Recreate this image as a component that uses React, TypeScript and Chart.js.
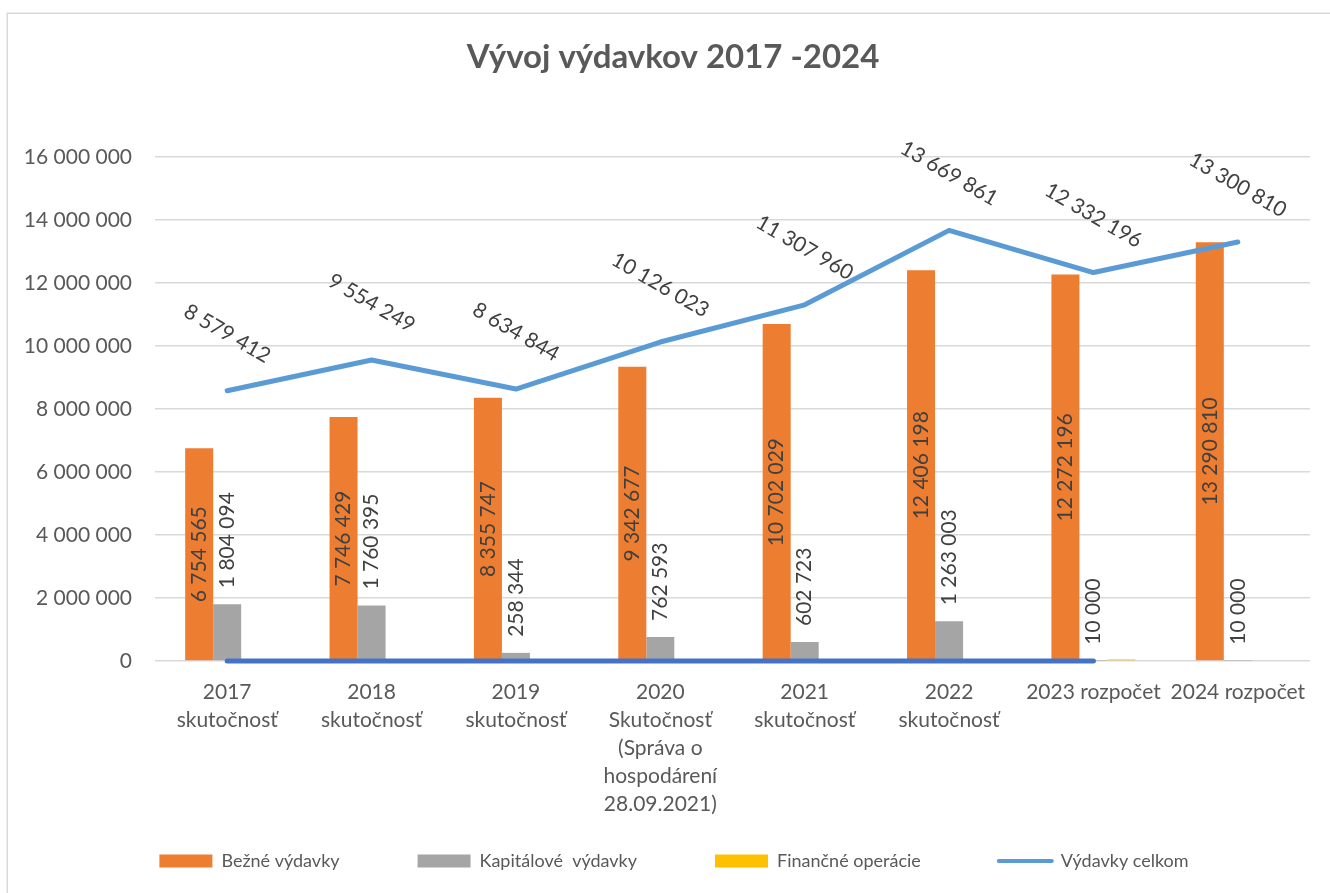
import React, { useEffect, useRef } from 'react';
import { Chart, registerables } from 'chart.js';

Chart.register(...registerables);

const FONT = 'Lato';
const TEXT_COLOR = '#595959';
const LABEL_COLOR = '#404040';

const chartTitle = 'Vývoj výdavkov 2017 -2024';
const categories: (string | string[])[] = [
  ['2017', 'skutočnosť'],
  ['2018', 'skutočnosť'],
  ['2019', 'skutočnosť'],
  ['2020', 'Skutočnosť', '(Správa o', 'hospodárení', '28.09.2021)'],
  ['2021', 'skutočnosť'],
  ['2022', 'skutočnosť'],
  '2023 rozpočet',
  '2024 rozpočet',
];
const bezneVydavky = [6754565, 7746429, 8355747, 9342677, 10702029, 12406198, 12272196, 13290810];
const kapitaloveVydavky = [1804094, 1760395, 258344, 762593, 602723, 1263003, 10000, 10000];
const financneOperacie = [0, 0, 0, 0, 0, 0, 50000, 0];
const vydavkyCelkom = [8579412, 9554249, 8634844, 10126023, 11307960, 13669861, 12332196, 13300810];
const baseLine = [0, 0, 0, 0, 0, 0, 0, null];
const yMin = 0;
const yMax = 16000000;
const yStep = 2000000;

const seriesNames = ['Bežné výdavky', 'Kapitálové  výdavky', 'Finančné operácie', 'Výdavky celkom'];
const colors = ['#ED7D31', '#A5A5A5', '#FFC000', '#5B9BD5', '#4472C4'];

const fmt = (v: number) => Math.round(v).toString().replace(/\B(?=(\d{3})+(?!\d))/g, ' ');

const decorPlugin = {
  id: 'decor',
  afterLayout(chart: any) {
    // let the tick labels extend outside their axis boxes without clipping
    if (chart.scales.x) chart.scales.x.bottom = chart.height;
    if (chart.scales.y) chart.scales.y.left = 0;
  },
  beforeDraw(chart: any) {
    const ctx = chart.ctx;
    ctx.save();
    ctx.strokeStyle = '#D9D9D9';
    ctx.lineWidth = 1.5;
    ctx.strokeRect(7.25, 13.25, 1400, 1000);
    ctx.restore();
  },
  afterDraw(chart: any) {
    const ctx = chart.ctx;
    ctx.save();
    ctx.fillStyle = TEXT_COLOR;
    ctx.font = `bold 33px ${FONT}`;
    ctx.textAlign = 'center';
    ctx.textBaseline = 'middle';
    ctx.fillText(chartTitle, 673, 57);
    ctx.restore();
  },
};

const labelsPlugin = {
  id: 'dataLabels',
  afterDatasetsDraw(chart: any) {
    const ctx = chart.ctx;
    ctx.save();
    ctx.fillStyle = LABEL_COLOR;
    ctx.font = `21px ${FONT}`;
    chart.getDatasetMeta(0).data.forEach((el: any, i: number) => {
      const cy = (el.y + el.base) / 2;
      ctx.save();
      ctx.translate(el.x, cy);
      ctx.rotate(-Math.PI / 2);
      ctx.textAlign = 'center';
      ctx.textBaseline = 'middle';
      ctx.fillText(fmt(bezneVydavky[i]), 0, 0);
      ctx.restore();
    });
    chart.getDatasetMeta(1).data.forEach((el: any, i: number) => {
      ctx.save();
      ctx.translate(el.x, el.y - 16);
      ctx.rotate(-Math.PI / 2);
      ctx.textAlign = 'left';
      ctx.textBaseline = 'middle';
      ctx.fillText(fmt(kapitaloveVydavky[i]), 0, 0);
      ctx.restore();
    });
    chart.getDatasetMeta(3).data.forEach((el: any, i: number) => {
      ctx.save();
      ctx.translate(el.x, el.y - 57);
      ctx.rotate(Math.PI / 6);
      ctx.textAlign = 'center';
      ctx.textBaseline = 'middle';
      ctx.fillText(fmt(vydavkyCelkom[i]), 0, 0);
      ctx.restore();
    });
    ctx.restore();
  },
};

export default function App() {
  const canvasRef = useRef<HTMLCanvasElement | null>(null);

  useEffect(() => {
    if (!canvasRef.current) return;
    const chart = new Chart(canvasRef.current, {
      type: 'bar',
      data: {
        labels: categories as any,
        datasets: [
          { type: 'bar', label: seriesNames[0], data: bezneVydavky, backgroundColor: colors[0], order: 3 },
          { type: 'bar', label: seriesNames[1], data: kapitaloveVydavky, backgroundColor: colors[1], order: 3 },
          { type: 'bar', label: seriesNames[2], data: financneOperacie, backgroundColor: colors[2], order: 3 },
          {
            type: 'line',
            label: seriesNames[3],
            data: vydavkyCelkom,
            borderColor: colors[3],
            backgroundColor: colors[3],
            borderWidth: 5,
            pointRadius: 0,
            borderCapStyle: 'round',
            borderJoinStyle: 'round',
            tension: 0,
            clip: false,
            order: 1,
          },
          {
            type: 'line',
            label: '',
            data: baseLine as any,
            borderColor: colors[4],
            backgroundColor: colors[4],
            borderWidth: 5,
            pointRadius: 0,
            borderCapStyle: 'round',
            tension: 0,
            clip: false,
            order: 0,
          },
        ] as any,
      },
      options: {
        responsive: false,
        animation: false,
        maintainAspectRatio: false,
        layout: { padding: { left: 38, right: 20, top: 157, bottom: 13 } },
        datasets: {
          bar: { categoryPercentage: 0.582, barPercentage: 1 },
        } as any,
        plugins: {
          title: { display: false },
          tooltip: { enabled: false },
          legend: {
            display: true,
            position: 'bottom',
            labels: {
              font: { family: FONT, size: 18 },
              color: TEXT_COLOR,
              padding: 78,
              usePointStyle: true,
              pointStyleWidth: 53,
              boxHeight: 13,
              generateLabels: () =>
                seriesNames.map((name, i) => ({
                  text: name,
                  fillStyle: colors[i],
                  strokeStyle: colors[i],
                  lineWidth: i === 3 ? 4 : 0,
                  lineCap: 'round',
                  pointStyle: i === 3 ? 'line' : 'rect',
                  hidden: false,
                  datasetIndex: i,
                  fontColor: TEXT_COLOR,
                })) as any,
            },
          },
        },
        scales: {
          x: {
            grid: { display: false, drawTicks: false },
            border: { display: false },
            ticks: {
              font: { family: FONT, size: 21, lineHeight: 1.34 },
              color: TEXT_COLOR,
              padding: 17,
              maxRotation: 0,
              autoSkip: false,
            },
            afterFit: (s: any) => {
              s.height = 113;
            },
          },
          y: {
            min: yMin,
            max: yMax,
            grid: { color: '#D9D9D9', lineWidth: 1.5, drawTicks: false },
            border: { display: false },
            ticks: {
              stepSize: yStep,
              font: { family: FONT, size: 21 },
              color: TEXT_COLOR,
              padding: 23,
              callback: (v: any) => fmt(Number(v)),
            },
            afterFit: (s: any) => {
              s.width = 117;
            },
          },
        },
      },
      plugins: [decorPlugin, labelsPlugin],
    });
    return () => chart.destroy();
  }, []);

  return (
    <div style={{ position: 'fixed', left: 0, top: 0, width: 1330, height: 893, background: '#fff' }}>
      <canvas ref={canvasRef} width={1330} height={893} style={{ display: 'block' }} />
    </div>
  );
}
